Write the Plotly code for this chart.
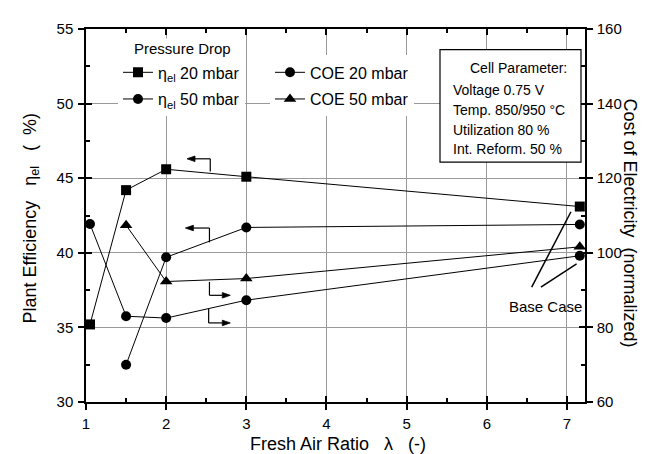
import plotly.graph_objects as go

# ---- data ----
x_eta20 = [1.05, 1.5, 2, 3, 7.16]
eta20 = [35.2, 44.2, 45.6, 45.1, 43.1]
x_eta50 = [1.5, 2, 3, 7.16]
eta50 = [32.5, 39.7, 41.7, 41.9]
x_coe20 = [1.05, 1.5, 2, 3, 7.16]
coe20 = [107.7, 83.0, 82.5, 87.3, 99.2]
x_coe50 = [1.5, 2, 3, 7.16]
coe50 = [107.4, 92.3, 93.1, 101.6]

x_ticks = [1, 2, 3, 4, 5, 6, 7]
eta_ticks = [30, 35, 40, 45, 50, 55]
coe_ticks = [60, 80, 100, 120, 140, 160]

cell_params = ["Voltage 0.75 V", "Temp. 850/950 °C", "Utilization 80 %", "Int. Reform. 50 %"]

# arrow indicators: (x_vertical, y_start, y_turn, x_end)
arrows = [
    (2.55, 45.45, 46.3, 2.26),
    (2.54, 40.7, 41.66, 2.24),
    (2.54, 38.05, 37.15, 2.8),
    (2.53, 36.25, 35.3, 2.8),
]
# base-case pointer lines (x0, y0, x1, y1) in x / eta coords
base_lines = [(6.56, 37.7, 7.05, 42.75), (6.675, 37.7, 7.12, 39.25)]

FONT = "Liberation Sans, Arial, sans-serif"
L, R, T, B = 78, 70, 16, 60
W, H = 647, 454
PW, PH = W - L - R, H - T - B
XR = [1, 7.225]
YR = [30, 55]
UX = (XR[1] - XR[0]) / PW   # data units per pixel
UY = (YR[1] - YR[0]) / PH


def px(xp):
    return (xp - L) / PW


def py(yp):
    return 1 - (yp - T) / PH


fig = go.Figure()
line = dict(color="black", width=1)
fig.add_trace(go.Scatter(x=x_eta20, y=eta20, mode="lines+markers", name="η<sub>el</sub> 20 mbar",
                         line=line, marker=dict(symbol="square", size=10, color="black"), legend="legend"))
fig.add_trace(go.Scatter(x=x_coe20, y=coe20, mode="lines+markers", name="COE 20 mbar", yaxis="y2",
                         line=line, marker=dict(symbol="circle", size=10, color="black"), legend="legend2"))
fig.add_trace(go.Scatter(x=x_eta50, y=eta50, mode="lines+markers", name="η<sub>el</sub> 50 mbar",
                         line=line, marker=dict(symbol="circle", size=10, color="black"), legend="legend3"))
fig.add_trace(go.Scatter(x=x_coe50, y=coe50, mode="lines+markers", name="COE 50 mbar", yaxis="y2",
                         line=line, marker=dict(symbol="triangle-up", size=11, color="black"), legend="legend4"))

tickfont = dict(family=FONT, size=15, color="black")
common = dict(showline=True, linecolor="black", linewidth=1.5, ticks="inside", ticklen=6,
              tickcolor="black", tickwidth=1.5, zeroline=False)
outer = dict(ticks="outside", ticklen=7, tickwidth=1.5, tickcolor="black", showticklabels=False,
             showgrid=False, showline=False, zeroline=False)

leg = dict(xanchor="left", yanchor="middle", bgcolor="white", borderwidth=0,
           font=dict(size=16), itemwidth=30)

fig.update_layout(
    width=W, height=H,
    margin=dict(l=L, r=R, t=T, b=B),
    paper_bgcolor="white", plot_bgcolor="white",
    font=dict(family=FONT, color="black"),
    xaxis=dict(range=XR, tickvals=x_ticks, tickfont=tickfont, showgrid=True, gridcolor="#999999",
               gridwidth=1, mirror="ticks", ticklabelstandoff=7,
               minor=dict(dtick=0.5, ticks="inside", ticklen=4, tickcolor="black"), **common),
    yaxis=dict(range=YR, tickvals=eta_ticks, tickfont=tickfont, showgrid=True, gridcolor="#999999",
               gridwidth=1, ticklabelstandoff=8,
               minor=dict(dtick=2.5, ticks="inside", ticklen=4, tickcolor="black"), **common),
    yaxis2=dict(range=[60, 160], tickvals=coe_ticks, tickfont=tickfont, overlaying="y", side="right",
                showgrid=False, ticklabelstandoff=7,
                minor=dict(dtick=10, ticks="inside", ticklen=4, tickcolor="black"), **common),
    xaxis3=dict(range=XR, overlaying="x", side="bottom", tickvals=x_ticks, **outer),
    yaxis3=dict(range=YR, overlaying="y", side="left", tickvals=eta_ticks, **outer),
    yaxis4=dict(range=[60, 160], overlaying="y", side="right", tickvals=coe_ticks, **outer),
    legend=dict(x=px(110), y=py(60), **leg),
    legend2=dict(x=px(262), y=py(60), **leg),
    legend3=dict(x=px(110), y=py(87), **leg),
    legend4=dict(x=px(262), y=py(87), **leg),
)

# invisible traces so the overlay tick axes exist
fig.add_trace(go.Scatter(x=[None], y=[None], xaxis="x3", yaxis="y3", showlegend=False, hoverinfo="skip"))
fig.add_trace(go.Scatter(x=[None], y=[None], xaxis="x3", yaxis="y4", showlegend=False, hoverinfo="skip"))

annotations = [
    dict(text="Pressure Drop", x=px(124), y=py(36), xref="paper", yref="paper", xanchor="left",
         yanchor="middle", showarrow=False, font=dict(size=15), bgcolor="white"),
    dict(text="Fresh Air Ratio   λ   (-)", x=px(330), y=py(437), xref="paper", yref="paper",
         xanchor="center", yanchor="middle", showarrow=False, font=dict(size=18)),
    dict(text="Plant Efficiency   η<sub>el</sub>   (  %)", x=px(23), y=py(208), xref="paper", yref="paper",
         xanchor="center", yanchor="middle", showarrow=False, textangle=-90, font=dict(size=18)),
    dict(text="Cost of Electricity  (normalized)", x=px(622), y=py(212), xref="paper", yref="paper",
         xanchor="center", yanchor="middle", showarrow=False, textangle=90, font=dict(size=18)),
    dict(text="Base Case", x=6.73, y=36.4, xref="x", yref="y", xanchor="center", yanchor="middle",
         showarrow=False, font=dict(size=15)),
    dict(text="Cell Parameter:", x=px(460), y=py(56), xref="paper", yref="paper", xanchor="left",
         yanchor="middle", showarrow=False, font=dict(size=14)),
]
for i, t in enumerate(cell_params):
    annotations.append(dict(text=t, x=px(443), y=py(78 + 20 * i), xref="paper", yref="paper",
                            xanchor="left", yanchor="middle", showarrow=False, font=dict(size=14)))

shapes = [
    dict(type="rect", xref="paper", yref="paper", x0=px(432), x1=px(573), y0=py(37), y1=py(151),
         line=dict(color="black", width=1.2), fillcolor="white", layer="above"),
]
arr_line = dict(color="black", width=1.2)
for xv, y0, y1, xe in arrows:
    shapes.append(dict(type="line", xref="x", yref="y", x0=xv, x1=xv, y0=y0, y1=y1, line=arr_line))
    d = 1 if xe > xv else -1
    tip = xe
    base = xe - d * 8 * UX
    shapes.append(dict(type="line", xref="x", yref="y", x0=xv, x1=base, y0=y1, y1=y1, line=arr_line))
    path = (f"M {tip},{y1} L {base},{y1 + 2.8 * UY} L {base},{y1 - 2.8 * UY} Z")
    shapes.append(dict(type="path", xref="x", yref="y", path=path, fillcolor="black",
                       line=dict(color="black", width=0.8)))
for x0, y0, x1, y1 in base_lines:
    shapes.append(dict(type="line", xref="x", yref="y", x0=x0, y0=y0, x1=x1, y1=y1,
                       line=dict(color="black", width=1.5)))

fig.update_layout(annotations=annotations, shapes=shapes)
fig.write_html("out.html")
